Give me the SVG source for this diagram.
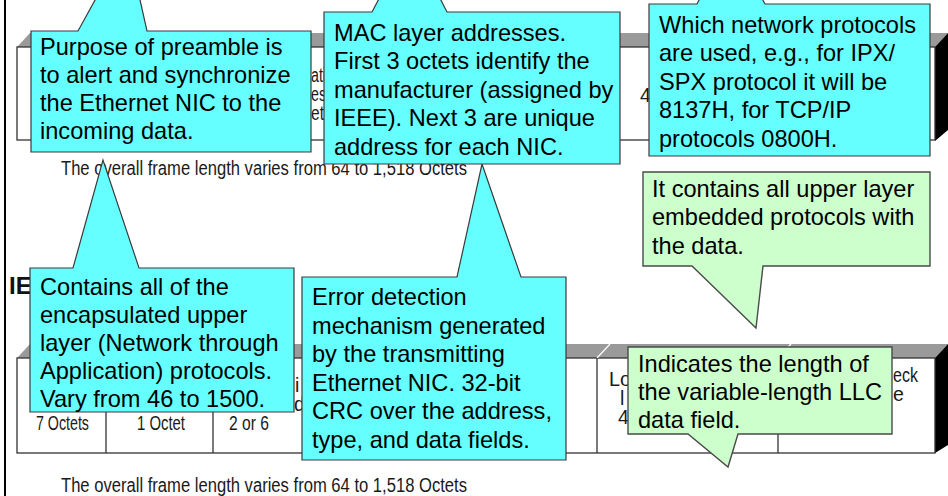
<svg xmlns="http://www.w3.org/2000/svg" width="948" height="496" viewBox="0 0 948 496">
  <style>
    .face { fill: #ffffff; stroke: #333333; stroke-width: 1.3; }
    .top { fill: #9a9a9a; }
    .side { fill: #000000; }
    .cell { stroke: #333333; stroke-width: 1.3; fill: none; }
    .slant { stroke: #ffffff; stroke-width: 1.2; fill: none; }
    .ft { font-family: "Liberation Sans", Arial, sans-serif; font-size: 19.5px; fill: #1a1a1a; }
    .hd { font-family: "Liberation Sans", Arial, sans-serif; font-size: 24px; font-weight: bold; fill: #111111; }
    .cyan { fill: #66ffff; stroke: #3a3a3a; stroke-width: 1.2; }
    .green { fill: #ccffcc; stroke: #4a4a4a; stroke-width: 1.4; }
    .ct { font-family: "Liberation Sans", Arial, sans-serif; font-size: 23.6px; fill: #000000; }
  </style>

  <!-- page margin rule -->
  <rect x="4" y="0" width="2" height="496" fill="#000000"/>

  <!-- Ethernet II frame (upper) -->
  <g id="frame-ethernet2">
    <polygon class="top" points="17,47 30,33 948,33 935,47"/>
    <polygon class="side" points="935,47 948,33 948,130 935,141"/>
    <rect class="face" x="17" y="47" width="918" height="93"/>
    <text class="ft" x="311" y="82" textLength="15" lengthAdjust="spacingAndGlyphs">ati</text>
    <text class="ft" x="311" y="101" textLength="15" lengthAdjust="spacingAndGlyphs">es</text>
    <text class="ft" x="311" y="120" textLength="13" lengthAdjust="spacingAndGlyphs">et</text>
    <text class="ft" x="640" y="102">4</text>
    <text class="ft" x="61" y="175" textLength="406" lengthAdjust="spacingAndGlyphs">The overall frame length varies from 64 to 1,518 Octets</text>
  </g>

  <!-- IEEE 802.3 frame (lower) -->
  <g id="frame-ieee8023">
    <text class="hd" x="9" y="294">IE</text>
    <polygon class="top" points="17,358 30,344 948,344 935,358"/>
    <polygon class="side" points="935,358 948,344 948,445 935,453"/>
    <rect class="face" x="17" y="358" width="918" height="95"/>
    <line class="slant" x1="597" y1="358" x2="610" y2="344"/>
    <line class="slant" x1="778" y1="358" x2="791" y2="344"/>
    <line class="cell" x1="106" y1="358" x2="106" y2="453"/>
    <line class="cell" x1="213" y1="358" x2="213" y2="453"/>
    <line class="cell" x1="597" y1="358" x2="597" y2="453"/>
    <line class="cell" x1="778" y1="358" x2="778" y2="453"/>
    <text class="ft" x="36" y="430" textLength="53" lengthAdjust="spacingAndGlyphs">7 Octets</text>
    <text class="ft" x="137" y="430" textLength="48" lengthAdjust="spacingAndGlyphs">1 Octet</text>
    <text class="ft" x="229" y="430" textLength="40" lengthAdjust="spacingAndGlyphs">2 or 6</text>
    <text class="ft" x="295" y="392">i</text>
    <text class="ft" x="294" y="411">d</text>
    <text class="ft" x="609" y="386" textLength="22" lengthAdjust="spacingAndGlyphs">Lo</text>
    <text class="ft" x="620" y="405">l</text>
    <text class="ft" x="618" y="424">4</text>
    <text class="ft" x="893" y="382" textLength="25" lengthAdjust="spacingAndGlyphs">eck</text>
    <text class="ft" x="893" y="401">e</text>
    <text class="ft" x="61" y="492" textLength="406" lengthAdjust="spacingAndGlyphs">The overall frame length varies from 64 to 1,518 Octets</text>
  </g>

  <!-- callouts -->
  <g id="callout-preamble">
    <path class="cyan" d="M31,31 H78 L127,-58 L147,31 H311 V152 H31 Z"/>
    <text class="ct" x="40" y="55">Purpose of preamble is</text>
    <text class="ct" x="40" y="83">to alert and synchronize</text>
    <text class="ct" x="40" y="111">the Ethernet NIC to the</text>
    <text class="ct" x="40" y="139">incoming data.</text>
  </g>

  <g id="callout-data">
    <path class="cyan" d="M30,268 H73 L103,160 L139,268 H294 V412 H30 Z"/>
    <text class="ct" x="40" y="295">Contains all of the</text>
    <text class="ct" x="40" y="323">encapsulated upper</text>
    <text class="ct" x="40" y="351">layer (Network through</text>
    <text class="ct" x="40" y="379">Application) protocols.</text>
    <text class="ct" x="40" y="407">Vary from 46 to 1500.</text>
  </g>

  <g id="callout-fcs">
    <path class="cyan" d="M302,277 H457 L482,164 L521,277 H566 V460 H302 Z"/>
    <text class="ct" x="312" y="305">Error detection</text>
    <text class="ct" x="312" y="334">mechanism generated</text>
    <text class="ct" x="312" y="362">by the transmitting</text>
    <text class="ct" x="312" y="391">Ethernet NIC. 32-bit</text>
    <text class="ct" x="312" y="419">CRC over the address,</text>
    <text class="ct" x="312" y="448">type, and data fields.</text>
  </g>

  <g id="callout-mac">
    <path class="cyan" d="M324,12 H372 L410,-60 L447,12 H620 V164 H324 Z"/>
    <text class="ct" x="334" y="41">MAC layer addresses.</text>
    <text class="ct" x="334" y="69">First 3 octets identify the</text>
    <text class="ct" x="334" y="98">manufacturer (assigned by</text>
    <text class="ct" x="334" y="126">IEEE). Next 3 are unique</text>
    <text class="ct" x="334" y="155">address for each NIC.</text>
  </g>

  <g id="callout-type">
    <path class="cyan" d="M649,4 H697 L730,-60 L765,4 H930 V156 H649 Z"/>
    <text class="ct" x="659" y="33">Which network protocols</text>
    <text class="ct" x="659" y="61">are used, e.g., for IPX/</text>
    <text class="ct" x="659" y="90">SPX protocol it will be</text>
    <text class="ct" x="659" y="118">8137H, for TCP/IP</text>
    <text class="ct" x="659" y="147">protocols 0800H.</text>
  </g>

  <g id="callout-llc">
    <path class="green" d="M643,172 H930 V266 H763 L756,328 L692,266 H643 Z"/>
    <text class="ct" x="652" y="197">It contains all upper layer</text>
    <text class="ct" x="652" y="225">embedded protocols with</text>
    <text class="ct" x="652" y="254">the data.</text>
  </g>

  <g id="callout-length">
    <path class="green" d="M628,347 H892 V434 H738 L728,467 L688,434 H628 Z"/>
    <text class="ct" x="638" y="372">Indicates the length of</text>
    <text class="ct" x="638" y="400">the variable-length LLC</text>
    <text class="ct" x="638" y="428">data field.</text>
  </g>
</svg>
